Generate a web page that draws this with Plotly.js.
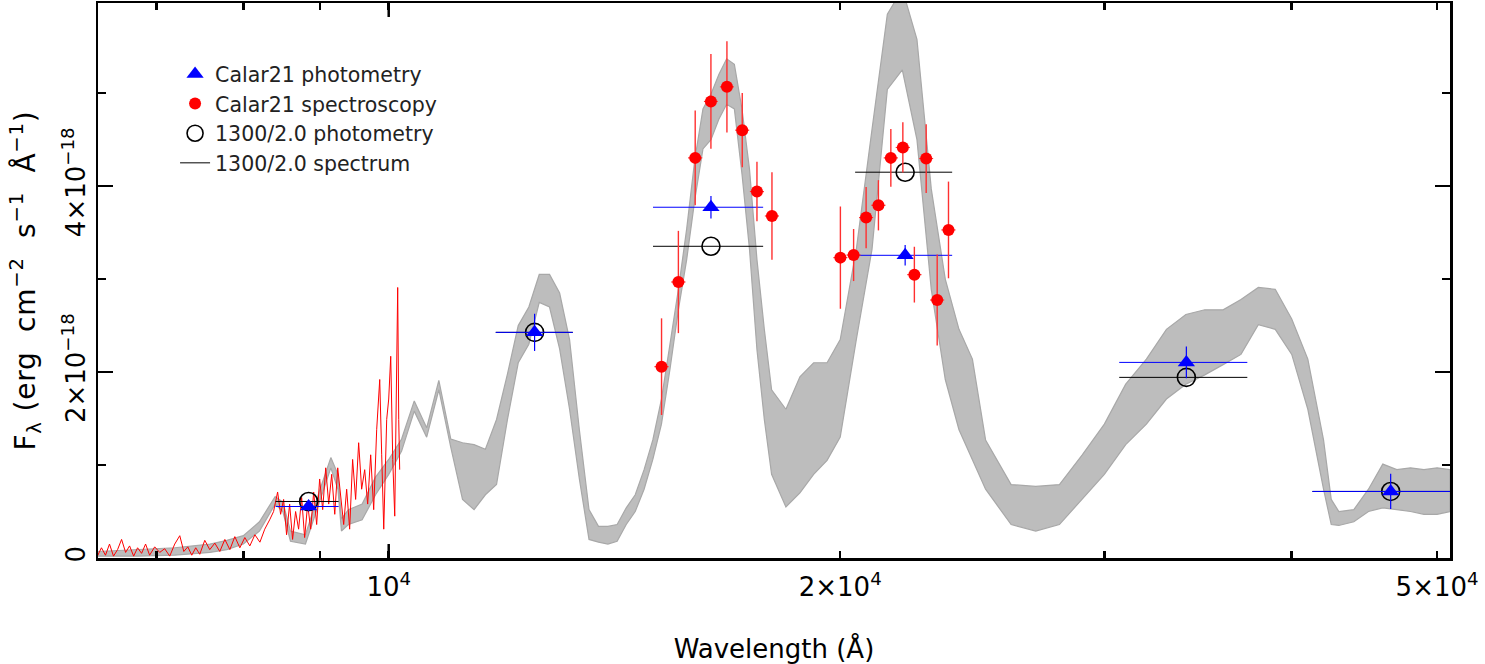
<!DOCTYPE html>
<html>
<head>
<meta charset="utf-8">
<script src="https://cdn.plot.ly/plotly-3.0.1.min.js"></script>
<style>
  html, body { margin: 0; padding: 0; background: #ffffff; }
  #chart { width: 1485px; height: 664px; }
  #chart .ytitle { letter-spacing: 0.8px; }
</style>
</head>
<body>
<div id="chart"></div>
<script>
// Flux values are in units of 1e-18 erg cm^-2 s^-1 A^-1; wavelengths in Angstrom.

// 1300/2.0 model spectrum (grey), read as upper / lower envelope of the noisy curve
const modelWave = [6400,6800,7200,7600,7800,8000,8200,8400,8500,8600,8800,9000,9150,9250,9300,9400,9600,9800,10000,10200,10400,10600,10800,11000,11200,11400,11600,11800,12000,12200,12400,12600,12800,13000,13200,13400,13600,13800,14000,14200,14400,14600,14800,15000,15200,15400,15600,15800,16000,16200,16400,16600,16800,17000,17200,17400,17600,17800,18000,18400,18800,19200,19600,20000,20500,21000,21500,22000,22500,23000,23500,24000,24500,25000,26000,27000,28000,29000,30000,31000,32000,33000,34000,35000,36000,37000,38000,39000,40000,41000,42000,42500,43000,44000,45000,46000,47000,48000,49000,50000,51000];
const modelUpper = [0.07,0.09,0.11,0.15,0.19,0.24,0.39,0.66,0.60,0.29,0.25,0.74,1.08,0.90,0.42,0.52,0.58,0.87,1.06,1.28,1.69,1.40,1.91,1.28,1.24,1.22,1.17,1.49,1.98,2.50,2.70,3.05,3.05,2.85,2.35,1.38,0.52,0.34,0.34,0.36,0.54,0.68,0.95,1.27,1.71,2.30,2.89,3.54,4.29,4.83,4.99,5.20,5.37,5.31,4.83,4.18,3.21,2.46,1.81,1.60,1.95,2.10,2.10,2.35,3.32,4.61,5.85,6.12,5.58,3.97,3.00,2.46,2.14,1.27,0.79,0.77,0.79,1.11,1.44,1.87,2.14,2.46,2.62,2.67,2.67,2.78,2.91,2.89,2.57,2.14,1.27,0.63,0.50,0.52,0.74,1.01,0.95,0.97,0.95,0.97,0.95];
const modelLower = [0.02,0.02,0.03,0.06,0.09,0.15,0.29,0.58,0.50,0.18,0.15,0.63,0.97,0.74,0.29,0.36,0.41,0.68,0.90,1.15,1.58,1.30,1.81,1.19,0.63,0.52,0.68,0.79,1.49,2.10,2.30,2.75,2.70,2.25,1.60,0.85,0.20,0.17,0.15,0.18,0.36,0.50,0.74,1.06,1.44,2.03,2.67,3.21,3.86,4.40,4.50,4.72,4.88,4.83,4.13,3.32,2.24,1.49,0.90,0.55,0.70,0.90,1.05,1.30,2.35,3.32,5.04,5.25,4.50,2.89,1.92,1.38,1.06,0.74,0.36,0.29,0.36,0.63,0.90,1.22,1.44,1.71,1.87,1.97,2.08,2.19,2.51,2.46,2.19,1.60,0.74,0.36,0.35,0.39,0.50,0.54,0.52,0.50,0.47,0.47,0.50];

// Calar21 optical spectrum (red line)
const obsWave = [6394,6434,6474,6514,6554,6595,6636,6677,6718,6760,6801,6843,6885,6928,6982,7036,7090,7145,7200,7256,7301,7346,7391,7436,7482,7540,7598,7657,7716,7776,7836,7896,7957,8018,8080,8143,8206,8267,8329,8380,8432,8471,8510,8549,8589,8628,8668,8708,8749,8789,8830,8871,8912,8953,8994,9036,9078,9120,9162,9205,9247,9290,9332,9375,9418,9461,9505,9549,9593,9638,9682,9727,9772,9817,9863,9893,9924,9969,10000,10031,10062,10093,10124,10139,10155,10170];
const obsFlux = [0.02,0.11,0.03,0.15,0.02,0.09,0.20,0.06,0.13,0.02,0.11,0.05,0.15,0.03,0.12,0.06,0.10,0.02,0.15,0.24,0.07,0.12,0.03,0.11,0.04,0.19,0.09,0.16,0.07,0.20,0.09,0.23,0.11,0.22,0.13,0.25,0.17,0.31,0.41,0.50,0.71,0.47,0.63,0.25,0.58,0.20,0.50,0.31,0.65,0.22,0.58,0.31,0.71,0.36,0.85,0.52,0.97,0.58,0.90,0.47,0.97,0.63,0.36,0.74,0.31,1.06,0.63,1.24,0.74,0.95,0.58,1.11,0.52,1.38,1.92,1.11,0.31,1.49,1.71,2.17,1.06,0.45,2.46,2.91,1.49,0.95];

// Photometry (band centres and band half-widths)
const photWave = [8843,12510,16400,22096,34025,46560];
const photWidthMinus = [437,724,1396,1633,3332,5270];
const photWidthPlus = [417,756,1368,1654,3338,5500];
const calarPhotFlux = [0.554,2.427,3.773,3.256,2.104,0.716];
const calarPhotErr = [0.05,0.20,0.12,0.11,0.17,0.19];
const modelPhotFlux = [0.608,2.427,3.353,4.150,1.943,0.716];

// Calar21 spectroscopy (binned points)
const specWave = [15202,15600,16008,16399,16807,17207,17600,18010,20005,20415,20811,21208,21616,22018,22411,22821,23210,23616];
const specFlux = [2.058,2.969,4.304,4.911,5.068,4.602,3.942,3.679,3.231,3.259,3.662,3.794,4.304,4.416,3.048,4.297,2.775,3.529];
const specErr = [0.52,0.55,0.51,0.51,0.49,0.40,0.32,0.47,0.55,0.28,0.33,0.27,0.31,0.27,0.30,0.37,0.49,0.52];
const specWaveErr = [165,170,175,175,180,185,190,195,215,220,225,230,235,240,245,245,250,255];

// Axis ticks
const xTickVals = [7000,8000,9000,10000,20000,30000,40000,50000];
const xTickText = ['','','','10<sup>4</sup>','2×10<sup>4</sup>','','','5×10<sup>4</sup>'];
const yTickVals = [0,2,4];
const yTickText = ['0','2×10<sup>−18</sup>','4×10<sup>−18</sup>'];

const FONT = 'DejaVu Sans, Arial, sans-serif';
const SP = '\u00A0';

const bandX = modelWave.concat(modelWave.slice().reverse());
const bandY = modelUpper.concat(modelLower.slice().reverse());

const traces = [
  {
    type: 'scatter', mode: 'lines', x: bandX, y: bandY,
    fill: 'toself', fillcolor: '#bdbdbd',
    line: {color: '#a8a8a8', width: 1.2},
    showlegend: false, hoverinfo: 'skip'
  },
  {
    type: 'scatter', mode: 'lines', x: obsWave, y: obsFlux,
    line: {color: '#ff0000', width: 1},
    showlegend: false
  },
  {
    type: 'scatter', mode: 'markers', x: photWave, y: modelPhotFlux,
    name: '1300/2.0 photometry', legendrank: 3,
    marker: {symbol: 'circle-open', size: 18, color: '#000000', line: {width: 1.6, color: '#000000'}},
    error_x: {type: 'data', symmetric: false, array: photWidthPlus, arrayminus: photWidthMinus, color: '#000000', thickness: 1, width: 0}
  },
  {
    type: 'scatter', mode: 'markers', x: photWave, y: calarPhotFlux,
    name: 'Calar21 photometry', legendrank: 1,
    marker: {symbol: 'triangle-up', size: 15, color: '#0000ff'},
    error_x: {type: 'data', symmetric: false, array: photWidthPlus, arrayminus: photWidthMinus, color: '#0000ff', thickness: 1, width: 0},
    error_y: {type: 'data', array: calarPhotErr, color: '#0000ff', thickness: 1.2, width: 0}
  },
  {
    type: 'scatter', mode: 'markers', x: specWave, y: specFlux,
    name: 'Calar21 spectroscopy', legendrank: 2,
    marker: {symbol: 'circle', size: 12, color: '#ff0000'},
    error_x: {type: 'data', array: specWaveErr, color: '#ff3030', thickness: 1.2, width: 0},
    error_y: {type: 'data', array: specErr, color: '#ff3030', thickness: 1.4, width: 0}
  },
  {
    type: 'scatter', mode: 'lines', x: [null], y: [null],
    name: '1300/2.0 spectrum', legendrank: 4,
    line: {color: '#000000', width: 1}
  }
];

const longTick = 14 / 555.5;
const layout = {
  width: 1485, height: 664,
  margin: {l: 97.5, r: 35, t: 3, b: 105.5},
  paper_bgcolor: '#ffffff', plot_bgcolor: '#ffffff',
  font: {family: FONT, color: '#000000'},
  showlegend: true,
  legend: {
    x: 0.057, y: 0.908, xanchor: 'left', yanchor: 'top',
    bgcolor: 'rgba(0,0,0,0)', borderwidth: 0,
    font: {family: FONT, size: 20.5, color: '#222222'},
    tracegroupgap: 0, itemwidth: 30
  },
  xaxis: {
    type: 'log',
    range: [Math.log10(6400), Math.log10(51000)],
    showgrid: false, zeroline: false,
    showline: true, linecolor: '#000000', linewidth: 2.5, mirror: 'allticks',
    ticks: 'inside', ticklen: 7, tickwidth: 2.5, tickcolor: '#000000',
    tickmode: 'array', tickvals: xTickVals, ticktext: xTickText,
    ticklabelstandoff: 4,
    tickfont: {family: FONT, size: 26, color: '#000000'},
    title: {text: 'Wavelength (Å)', font: {family: FONT, size: 26, color: '#000000'}, standoff: 44}
  },
  yaxis: {
    range: [0, 5.97],
    showgrid: false, zeroline: false,
    showline: true, linecolor: '#000000', linewidth: 2.5, mirror: 'allticks',
    ticks: 'inside', ticklen: 15, tickwidth: 2.5, tickcolor: '#000000',
    tickmode: 'array', tickvals: yTickVals, ticktext: yTickText,
    tickangle: -90,
    tickfont: {family: FONT, size: 26, color: '#000000'},
    minor: {dtick: 1, ticks: 'inside', ticklen: 8, tickwidth: 2.5, tickcolor: '#000000', showgrid: false},
    title: {
      text: 'F<sub>λ</sub>' + SP + '(erg' + SP + SP + 'cm<sup>−2</sup>' + SP + SP + 's<sup>−1</sup>' + SP + SP + 'Å<sup>−1</sup>)',
      font: {family: FONT, size: 28, color: '#000000'}, standoff: 14
    }
  },
  shapes: [
    {type: 'line', xref: 'x', yref: 'paper', x0: 10000, x1: 10000, y0: 0, y1: longTick, line: {color: '#000000', width: 2.5}},
    {type: 'line', xref: 'x', yref: 'paper', x0: 10000, x1: 10000, y0: 1 - longTick, y1: 1, line: {color: '#000000', width: 2.5}}
  ]
};

Plotly.newPlot('chart', traces, layout, {displayModeBar: false, staticPlot: true});
</script>
</body>
</html>
